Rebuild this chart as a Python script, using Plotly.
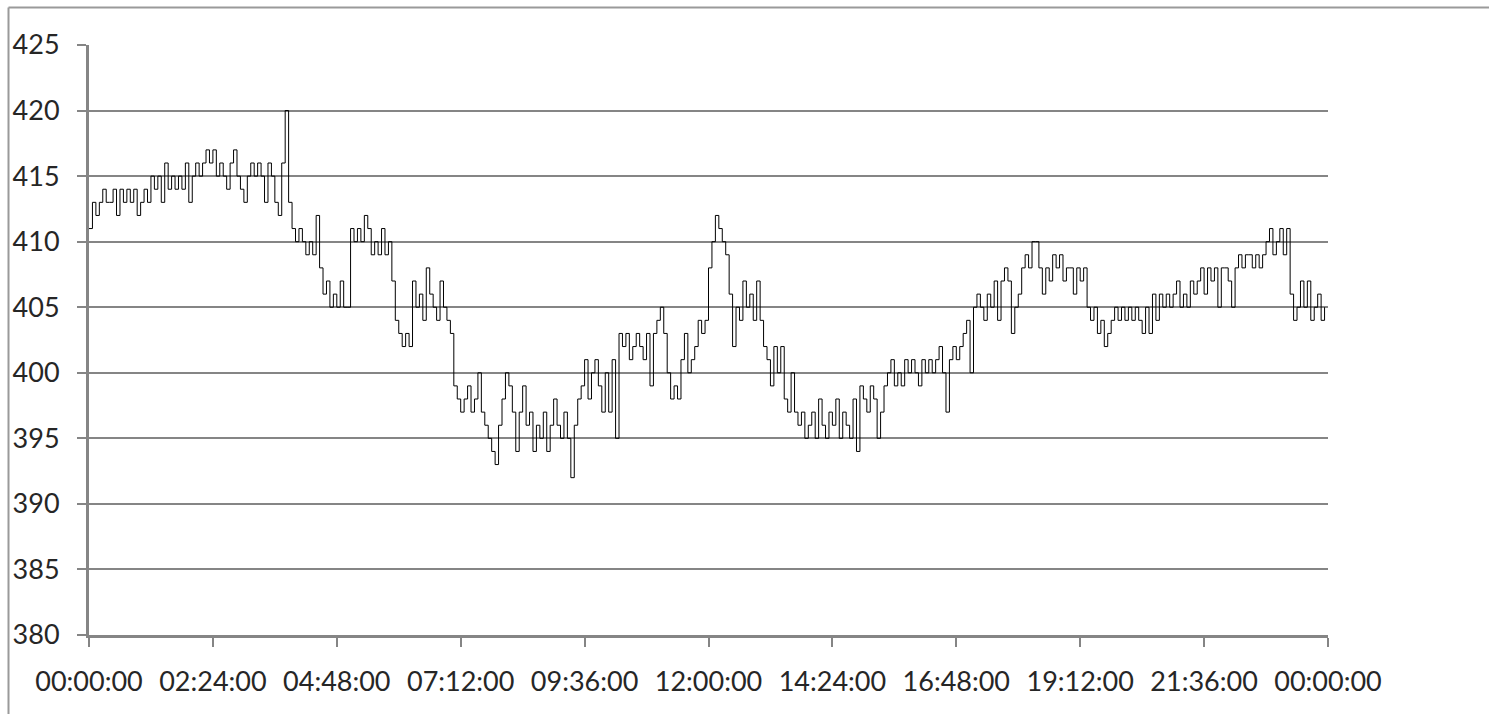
import plotly.graph_objects as go

# Readings sampled every 4 minutes, one row per hour (00h .. 23h)
hour_00 = [411, 413, 412, 413, 414, 413, 413, 414, 412, 414, 413, 414, 413, 414, 412]
hour_01 = [413, 414, 413, 415, 414, 415, 413, 416, 414, 415, 414, 415, 414, 416, 413]
hour_02 = [415, 416, 415, 416, 417, 416, 417, 415, 416, 415, 414, 416, 417, 415, 414]
hour_03 = [413, 415, 416, 415, 416, 415, 413, 416, 415, 413, 412, 416, 420, 413, 411]
hour_04 = [410, 411, 410, 409, 410, 409, 412, 408, 406, 407, 405, 406, 405, 407, 405]
hour_05 = [405, 411, 410, 411, 410, 412, 411, 409, 410, 409, 411, 409, 410, 407, 404]
hour_06 = [403, 402, 403, 402, 407, 405, 406, 404, 408, 406, 405, 404, 407, 405, 404]
hour_07 = [403, 399, 398, 397, 398, 399, 397, 398, 400, 397, 396, 395, 394, 393, 396]
hour_08 = [398, 400, 399, 397, 394, 397, 399, 396, 397, 394, 396, 395, 397, 394, 396]
hour_09 = [398, 396, 395, 397, 395, 392, 396, 398, 399, 401, 398, 400, 401, 399, 397]
hour_10 = [400, 397, 401, 395, 403, 402, 403, 401, 402, 403, 402, 401, 403, 399, 403]
hour_11 = [404, 405, 403, 400, 398, 399, 398, 401, 403, 400, 401, 402, 404, 403, 404]
hour_12 = [408, 410, 412, 411, 410, 409, 406, 402, 405, 404, 407, 405, 406, 404, 407]
hour_13 = [404, 402, 401, 399, 402, 400, 402, 398, 397, 400, 397, 396, 397, 395, 396]
hour_14 = [397, 395, 398, 396, 395, 397, 396, 398, 395, 397, 396, 395, 398, 394, 399]
hour_15 = [398, 397, 399, 398, 395, 397, 399, 400, 401, 399, 400, 399, 401, 400, 401]
hour_16 = [400, 399, 401, 400, 401, 400, 401, 402, 400, 397, 401, 402, 401, 402, 403]
hour_17 = [404, 400, 405, 406, 405, 404, 406, 405, 407, 404, 407, 408, 407, 403, 405]
hour_18 = [406, 408, 409, 408, 410, 410, 408, 406, 408, 407, 409, 408, 409, 407, 408]
hour_19 = [408, 406, 408, 407, 408, 405, 404, 405, 403, 404, 402, 403, 404, 405, 404]
hour_20 = [405, 404, 405, 404, 405, 404, 403, 405, 403, 406, 404, 406, 405, 406, 405]
hour_21 = [406, 407, 405, 406, 405, 407, 406, 407, 408, 406, 408, 407, 408, 405, 408]
hour_22 = [408, 407, 405, 408, 409, 408, 409, 409, 408, 409, 408, 409, 410, 411, 409]
hour_23 = [410, 411, 409, 411, 406, 404, 405, 407, 405, 407, 404, 405, 406, 404, 405]

hours = [hour_00, hour_01, hour_02, hour_03, hour_04, hour_05, hour_06, hour_07,
         hour_08, hour_09, hour_10, hour_11, hour_12, hour_13, hour_14, hour_15,
         hour_16, hour_17, hour_18, hour_19, hour_20, hour_21, hour_22, hour_23]
values = [v for row in hours for v in row]

SAMPLE_MINUTES = 4
minutes = [i * SAMPLE_MINUTES for i in range(len(values))]

tick_minutes = [0, 144, 288, 432, 576, 720, 864, 1008, 1152, 1296, 1440]
tick_labels = ["00:00:00", "02:24:00", "04:48:00", "07:12:00", "09:36:00",
               "12:00:00", "14:24:00", "16:48:00", "19:12:00", "21:36:00", "00:00:00"]
y_ticks = [380, 385, 390, 395, 400, 405, 410, 415, 420, 425]

GRID = "#858585"
AXIS = "#858585"
TEXT = "#262626"
FONT = "Lato"

fig = go.Figure()
fig.add_trace(go.Scatter(
    x=minutes, y=values, mode="lines", line_shape="hv",
    line=dict(color="#000000", width=1),
    hoverinfo="skip", showlegend=False,
))

fig.update_xaxes(
    range=[0, 1440], tickmode="array", tickvals=tick_minutes, ticktext=tick_labels,
    showgrid=False, zeroline=False, automargin=False,
    showline=True, linecolor=AXIS, linewidth=3,
    ticks="outside", ticklen=9, tickwidth=2, tickcolor=AXIS,
    tickfont=dict(family=FONT, size=27, color=TEXT),
    ticklabelstandoff=12,
)
fig.update_yaxes(
    range=[380, 425], tickmode="array", tickvals=y_ticks,
    showgrid=True, gridcolor=GRID, gridwidth=2, zeroline=False, automargin=False,
    showline=True, linecolor=AXIS, linewidth=3,
    ticks="outside", ticklen=9, tickwidth=2, tickcolor=GRID,
    tickfont=dict(family=FONT, size=27, color=TEXT),
    ticklabelstandoff=12,
)

# Outer chart frame (top and left edges)
L, T, W, H = 89, 45, 1239, 590
def px_x(p):
    return (p - L) / W
def px_y(p):
    return (T + H - p) / H

frame = dict(type="line", xref="paper", yref="paper",
             line=dict(color="#9a9a9a", width=2), layer="below")
fig.add_shape(**frame, x0=px_x(8.5), x1=px_x(1489), y0=px_y(7.5), y1=px_y(7.5))
fig.add_shape(**frame, x0=px_x(8.5), x1=px_x(8.5), y0=px_y(7.5), y1=px_y(714))

fig.update_layout(
    width=1489, height=714,
    margin=dict(l=L, r=1489 - L - W, t=T, b=714 - T - H),
    paper_bgcolor="white", plot_bgcolor="white",
)

fig.write_html("out.html")
